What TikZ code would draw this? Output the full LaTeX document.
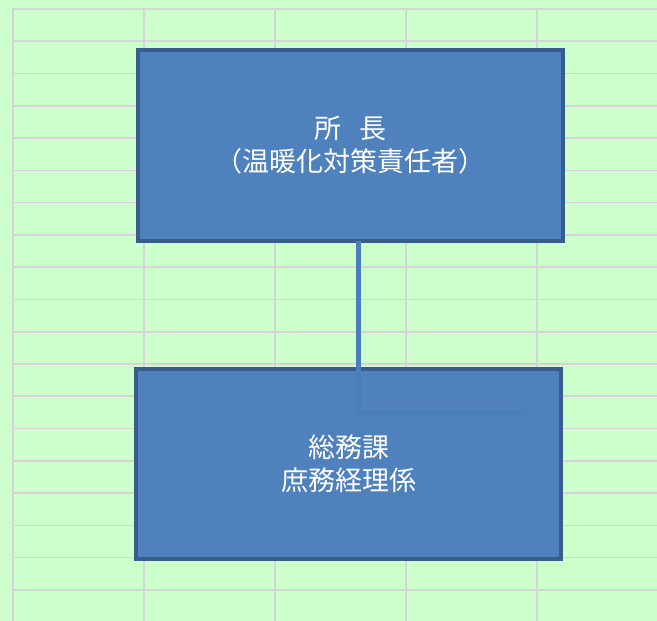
\documentclass[tikz,border=0pt]{standalone}
\usepackage{fontspec}
\newfontfamily\cjk{Noto Sans CJK JP}
\definecolor{bggreen}{HTML}{CCFFCC}
\definecolor{gridgray}{HTML}{D4D4D4}
\definecolor{boxfill}{HTML}{4F81BD}
\definecolor{boxline}{HTML}{385D8A}
\definecolor{connline}{HTML}{4A7EBB}
\begin{document}
\begin{tikzpicture}[x=1pt,y=-1pt,
  orgbox/.style={draw=boxline, line width=4pt, fill=boxfill, text=white,
    align=center, inner sep=0pt, font=\cjk\fontsize{27}{33}\selectfont},
  gridline/.style={draw=gridgray, line width=1.6pt},
  connector/.style={draw=connline, line width=4.7pt}]
\useasboundingbox (0,0) rectangle (657,621);
\fill[bggreen] (0,0) rectangle (657,621);
% spreadsheet grid
\foreach \k in {0,...,19} {
  \draw[gridline] (12,{9+32.27*\k}) -- (657,{9+32.27*\k});
}
\foreach \x in {13,144,275,406,537} {
  \draw[gridline] (\x,9) -- (\x,621);
}
% boxes
\node[orgbox, minimum width=425pt, minimum height=191pt] (top) at (350.5,145.5)
  {所\hspace{18pt}長\\（温暖化対策責任者）};
\node[orgbox, minimum width=425pt, minimum height=190pt] (bottom) at (348.5,464)
  {総務課\\庶務経理係};
% connector
\coordinate (bend) at (358.5,413);
\coordinate (tail) at (526,413);
\draw[connector] ([xshift=8pt,yshift=2pt]top.south) -- (bend) -- (tail);
\end{tikzpicture}
\end{document}
